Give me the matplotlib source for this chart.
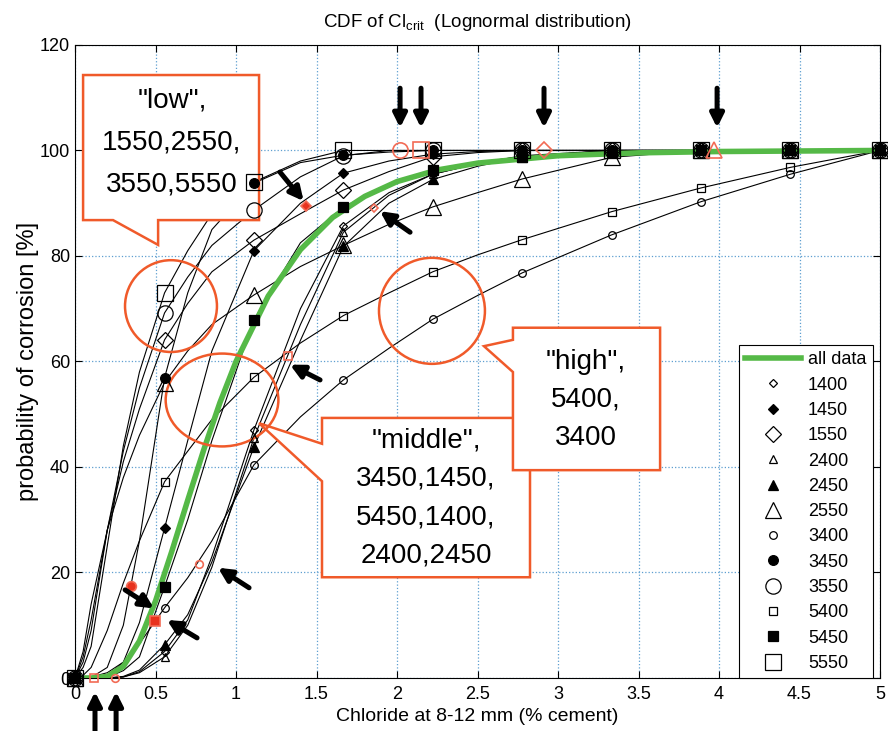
import matplotlib
matplotlib.use("Agg")
import matplotlib.pyplot as plt
from matplotlib.patches import Ellipse, Polygon
from matplotlib.lines import Line2D

plt.rcParams['font.family'] = ['Liberation Sans', 'DejaVu Sans']

# chloride content (% cement) where the curves are sampled
x_grid = [0, 0.05, 0.1, 0.2, 0.3, 0.4, 0.556, 0.7, 0.85, 1.111, 1.4, 1.667,
          1.95, 2.222, 2.5, 2.778, 3.333, 3.889, 4.444, 5.0]
# indices of x_grid that carry a marker
mark_idx = [0, 6, 9, 11, 13, 15, 16, 17, 18, 19]

# probability of corrosion [%] per specimen series
p1400 = [0, 0, 0, 0, 0.2, 1.2, 5.0, 11, 23, 47, 70, 85.7, 92, 95.5, 97.5, 98.8, 100, 100, 100, 100]
p1450 = [0, 0, 0, 0.4, 3, 10.5, 28.4, 45, 62, 81, 90, 95.7, 98, 99.3, 99.8, 100, 100, 100, 100, 100]
p1550 = [0, 4, 11, 28, 41, 51, 64.1, 71, 77, 83, 88, 92.5, 96, 98.8, 99.6, 100, 100, 100, 100, 100]
p2400 = [0, 0, 0, 0, 0.2, 1, 4.0, 10, 21, 45.5, 67, 84.5, 91.5, 95.5, 97.5, 99, 100, 100, 100, 100]
p2450 = [0, 0, 0, 0, 0.3, 1.5, 6.3, 12, 22, 43.8, 64, 81.8, 90, 94.5, 97, 98.8, 100, 100, 100, 100]
p2550 = [0, 5, 14, 28, 38, 46, 56, 62, 67, 72.6, 78, 82, 86, 89.3, 92, 94.6, 98.7, 100, 100, 100]
p3400 = [0, 0, 0.2, 1, 3, 6.5, 13.3, 19, 26, 40.4, 49.5, 56.5, 62.5, 68, 72.5, 76.8, 84, 90.3, 95.5, 100]
p3450 = [0, 0, 0.1, 2, 10, 26, 56.9, 73, 85, 93.8, 97.7, 99.1, 99.7, 100, 100, 100, 100, 100, 100, 100]
p3550 = [0, 3, 9, 28, 43, 55, 69.2, 76, 82, 88.7, 95, 99, 100, 100, 100, 100, 100, 100, 100, 100]
p5400 = [0, 0.5, 2, 9, 18, 26, 37.2, 43, 49, 57, 63.5, 68.7, 73, 77, 80.2, 83.1, 88.4, 92.9, 96.8, 100]
p5450 = [0, 0, 0, 0.1, 1.4, 4, 17.3, 30, 45, 67.9, 82.5, 89.3, 93.5, 96.3, 97.8, 98.8, 99.7, 100, 100, 100]
p5550 = [0, 2, 6, 25, 44, 58, 73, 81, 88, 94, 98, 100, 100, 100, 100, 100, 100, 100, 100, 100]

# pooled fit of all data
all_x = [0, 0.1, 0.2, 0.3, 0.4, 0.5, 0.6, 0.7, 0.8, 0.9, 1.0, 1.2, 1.4, 1.6,
         1.8, 2.0, 2.25, 2.5, 3.0, 3.5, 4.0, 5.0]
all_y = [0, 0, 0.3, 2.2, 7.0, 14.6, 23.9, 33.7, 43.3, 52.2, 60.0, 72.4, 81.2,
         87.3, 91.3, 94.1, 96.3, 97.6, 99.0, 99.55, 99.8, 100]

# highlighted points (series, x, probability)
red_series = ['5400', '3400', '3450', '5450', '3400', '5400', '1450', '1400',
              '3550', '5550', '1550', '2550']
red_x = [0.12, 0.25, 0.35, 0.497, 0.77, 1.32, 1.435, 1.86, 2.02, 2.15, 2.91, 3.97]
red_y = [0, 0, 17.4, 10.8, 21.7, 61, 89.5, 89, 100, 100, 100, 100]

series = {'1400': p1400, '1450': p1450, '1550': p1550,
          '2400': p2400, '2450': p2450, '2550': p2550,
          '3400': p3400, '3450': p3450, '3550': p3550,
          '5400': p5400, '5450': p5450, '5550': p5550}

shape = {'1': 'D', '2': '^', '3': 'o', '5': 's'}


def style(name):
    m = shape[name[0]]
    kind = name[1:3]
    if kind == '40':
        ms, fc = 5.5, 'none'
    elif kind == '45':
        ms, fc = 7, 'k'
    else:
        ms, fc = 11, 'none'
    if m == 'D':
        ms *= 0.75
    return m, ms, fc


fig = plt.figure(figsize=(8.88, 7.31), dpi=100)
ax = fig.add_axes([0.0845, 0.0725, 0.9065, 0.866])

for name, vals in series.items():
    ax.plot(x_grid, vals, color='k', lw=0.8, zorder=2)

ax.plot(all_x, all_y, color='#55b947', lw=4, zorder=3, solid_capstyle='butt')

handles = [Line2D([], [], color='#55b947', lw=4, label='all data')]
for name, vals in series.items():
    m, ms, fc = style(name)
    mx = [x_grid[i] for i in mark_idx]
    my = [vals[i] for i in mark_idx]
    ax.plot(mx, my, ls='none', marker=m, ms=ms, mfc=fc, mec='k', mew=0.9,
            zorder=5, clip_on=False)
    handles.append(Line2D([], [], ls='none', marker=m, ms=ms, mfc=fc,
                          mec='k', mew=0.9, label=name))

for name, x, y in zip(red_series, red_x, red_y):
    m, ms, fc = style(name)
    ax.plot(x, y, ls='none', marker=m, ms=ms,
            mfc='#e8321e' if fc == 'k' else 'none',
            mec='#f26b55', mew=1.2, zorder=6, clip_on=False)

# arrows pointing at the highlighted points
arrows = [((2.019, 111.8), (2.019, 104.3)), ((2.149, 111.8), (2.149, 104.3)),
          ((2.913, 111.8), (2.913, 104.3)), ((3.988, 111.8), (3.988, 104.3)),
          ((0.124, -10.5), (0.124, -2.6)), ((0.255, -10.5), (0.255, -2.6)),
          ((1.273, 95.9), (1.42, 90.4)), ((2.081, 84.5), (1.894, 88.5)),
          ((1.522, 56.5), (1.335, 59.4)), ((1.081, 17.1), (0.888, 20.9)),
          ((0.311, 16.7), (0.49, 13.2)), ((0.758, 7.6), (0.571, 11.0))]
for tail, head in arrows:
    ax.annotate('', xy=head, xytext=tail, annotation_clip=False,
                arrowprops=dict(arrowstyle='-|>', color='k', lw=3.6,
                                mutation_scale=20, shrinkA=0, shrinkB=0),
                zorder=7)

orange = '#f05a2a'
callout_kw = dict(closed=True, fc='white', ec=orange, lw=1.8, zorder=4.5)
ax.add_patch(Polygon([(0.05, 114.3), (1.143, 114.3), (1.143, 86.8),
                      (0.516, 86.8), (0.516, 82.1), (0.236, 86.8),
                      (0.05, 86.8)], **callout_kw))
ax.add_patch(Polygon([(1.534, 49.3), (2.826, 49.3), (2.826, 19.1),
                      (1.534, 19.1), (1.534, 37.3), (1.143, 48.3),
                      (1.534, 44.4)], **callout_kw))
ax.add_patch(Polygon([(2.72, 66.4), (3.634, 66.4), (3.634, 39.4),
                      (2.72, 39.4), (2.72, 58.0), (2.54, 62.9),
                      (2.72, 64.1)], **callout_kw))

ell_kw = dict(fc='none', ec=orange, lw=1.8, zorder=4.5)
ax.add_patch(Ellipse((0.596, 70.5), 0.571, 17.4, **ell_kw))
ax.add_patch(Ellipse((0.913, 52.7), 0.70, 17.6, **ell_kw))
ax.add_patch(Ellipse((2.217, 69.6), 0.658, 20.1, **ell_kw))

txt_kw = dict(ha='center', va='center', fontsize=20, zorder=8)
ax.text(0.602, 101.6, '"low",\n1550,2550,\n3550,5550', linespacing=1.8, **txt_kw)
ax.text(2.18, 34.1, '"middle",\n3450,1450,\n5450,1400,\n2400,2450',
        linespacing=1.62, **txt_kw)
ax.text(3.174, 52.7, '"high",\n5400,\n3400', linespacing=1.6, **txt_kw)

ax.set_xlim(0, 5)
ax.set_ylim(0, 120)
ax.set_xticks([0, 0.5, 1, 1.5, 2, 2.5, 3, 3.5, 4, 4.5, 5])
ax.set_xticklabels(['0', '0.5', '1', '1.5', '2', '2.5', '3', '3.5', '4', '4.5', '5'])
ax.set_yticks([0, 20, 40, 60, 80, 100, 120])
ax.tick_params(direction='in', top=True, right=True, labelsize=13, length=5)
ax.tick_params(axis='x', pad=6)
ax.grid(True, ls=':', color='#5d9fd0', lw=0.9)
ax.set_axisbelow(True)

ax.set_title(r'CDF of Cl$_{\mathregular{crit}}$  (Lognormal distribution)',
             fontsize=13.5, pad=13)
ax.set_xlabel('Chloride at 8-12 mm (% cement)', fontsize=14, labelpad=3)
ax.set_ylabel('probability of corrosion [%]', fontsize=17, labelpad=1)

leg = ax.legend(handles=handles, loc='upper right', bbox_to_anchor=(0.991, 0.526),
                fontsize=13, frameon=True, fancybox=False, framealpha=1,
                edgecolor='k', handlelength=3.1, handletextpad=0.4,
                labelspacing=0.46, borderpad=0.35, borderaxespad=0)
leg.get_frame().set_linewidth(0.8)
leg.set_zorder(9)

fig.savefig('out.png', dpi=100)
